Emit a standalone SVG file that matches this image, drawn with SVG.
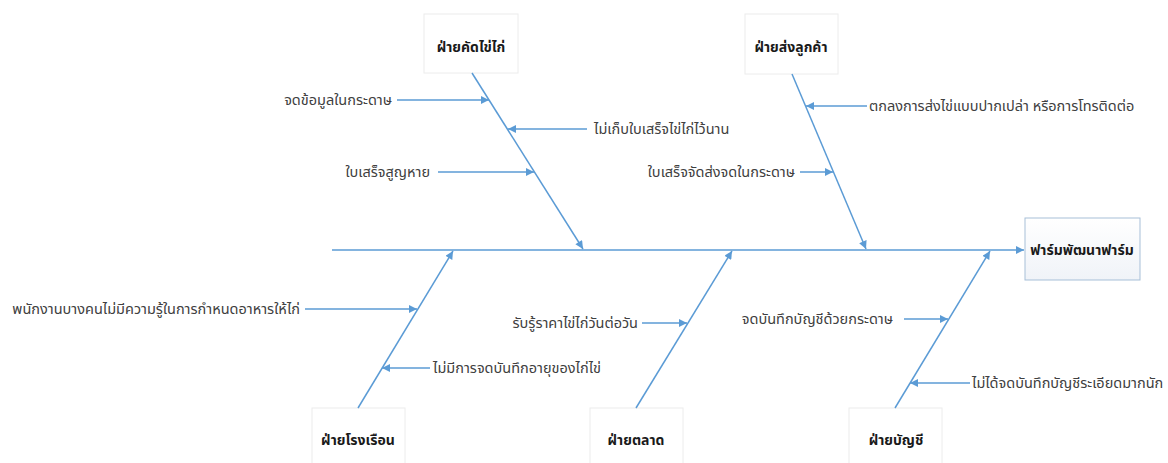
<svg xmlns="http://www.w3.org/2000/svg" width="1168" height="463" viewBox="0 0 1168 463">
<style>
.ln{stroke:#5b9bd5;stroke-width:1.5;fill:none}
.lbl{font-family:"Noto Sans Thai","Noto Sans","DejaVu Sans",sans-serif;font-size:14.5px;fill:#404040}
.ttl{font-family:"Noto Sans Thai","Noto Sans","DejaVu Sans",sans-serif;font-size:14px;font-weight:bold;fill:#1a1a1a}
.cbox{fill:#ffffff;stroke:#ececec;stroke-width:1}
</style>
<defs>
<marker id="ah" viewBox="0 0 10 10" refX="10" refY="5" markerWidth="10" markerHeight="8" markerUnits="userSpaceOnUse" orient="auto">
<path d="M0,0 L10,5 L0,10 z" fill="#5b9bd5"/>
</marker>
<linearGradient id="eg" x1="0" y1="0" x2="0" y2="1">
<stop offset="0" stop-color="#ffffff"/>
<stop offset="1" stop-color="#f0f3f8"/>
</linearGradient>
</defs>
<rect width="1168" height="463" fill="#ffffff"/>

<g id="node-effect">
<rect x="1025" y="218" width="115" height="62" fill="url(#eg)" stroke="#a7bfd8" stroke-width="1"/>
<text class="ttl" x="1082" y="255" text-anchor="middle">ฟาร์มพัฒนาฟาร์ม</text>
</g>
<g id="node-sorting">
<rect class="cbox" x="424" y="14" width="94" height="59"/>
<text class="ttl" x="471" y="52" text-anchor="middle">ฝ่ายคัดไข่ไก่</text>
</g>
<g id="node-delivery">
<rect class="cbox" x="745" y="14" width="93" height="60"/>
<text class="ttl" x="791" y="52" text-anchor="middle">ฝ่ายส่งลูกค้า</text>
</g>
<g id="node-housing">
<rect class="cbox" x="312" y="408" width="93" height="56"/>
<text class="ttl" x="358" y="445" text-anchor="middle">ฝ่ายโรงเรือน</text>
</g>
<g id="node-marketing">
<rect class="cbox" x="590" y="408" width="93" height="56"/>
<text class="ttl" x="636" y="445" text-anchor="middle">ฝ่ายตลาด</text>
</g>
<g id="node-accounting">
<rect class="cbox" x="849" y="408" width="93" height="56"/>
<text class="ttl" x="896" y="445" text-anchor="middle">ฝ่ายบัญชี</text>
</g>

<g id="connectors">
<line class="ln" x1="332" y1="250" x2="1024" y2="250" marker-end="url(#ah)"/>
<line class="ln" x1="472" y1="73" x2="583" y2="249" marker-end="url(#ah)"/>
<line class="ln" x1="792" y1="74" x2="866" y2="249" marker-end="url(#ah)"/>
<line class="ln" x1="358" y1="408" x2="453" y2="251" marker-end="url(#ah)"/>
<line class="ln" x1="636" y1="408" x2="732" y2="251" marker-end="url(#ah)"/>
<line class="ln" x1="895" y1="408" x2="990" y2="251" marker-end="url(#ah)"/>

<line class="ln" x1="397" y1="100" x2="489" y2="100" marker-end="url(#ah)"/>
<line class="ln" x1="587" y1="129" x2="508" y2="129" marker-end="url(#ah)"/>
<line class="ln" x1="438" y1="172" x2="534" y2="172" marker-end="url(#ah)"/>
<line class="ln" x1="867" y1="106" x2="806" y2="106" marker-end="url(#ah)"/>
<line class="ln" x1="800" y1="172" x2="833" y2="172" marker-end="url(#ah)"/>
<line class="ln" x1="305" y1="309" x2="417" y2="309" marker-end="url(#ah)"/>
<line class="ln" x1="430" y1="368" x2="382" y2="368" marker-end="url(#ah)"/>
<line class="ln" x1="642" y1="323" x2="687" y2="323" marker-end="url(#ah)"/>
<line class="ln" x1="904" y1="319" x2="948" y2="319" marker-end="url(#ah)"/>
<line class="ln" x1="970" y1="383" x2="910" y2="383" marker-end="url(#ah)"/>
</g>

<g id="labels">
<text class="lbl" x="392" y="105" text-anchor="end">จดข้อมูลในกระดาษ</text>
<text class="lbl" x="594" y="134">ไม่เก็บใบเสร็จไข่ไก่ไว้นาน</text>
<text class="lbl" x="430" y="177" text-anchor="end">ใบเสร็จสูญหาย</text>
<text class="lbl" x="869" y="111">ตกลงการส่งไข่แบบปากเปล่า หรือการโทรติดต่อ</text>
<text class="lbl" x="795" y="177" text-anchor="end">ใบเสร็จจัดส่งจดในกระดาษ</text>
<text class="lbl" x="300" y="314" text-anchor="end">พนักงานบางคนไม่มีความรู้ในการกำหนดอาหารให้ไก่</text>
<text class="lbl" x="433" y="373">ไม่มีการจดบันทึกอายุของไก่ไข่</text>
<text class="lbl" x="638" y="328" text-anchor="end">รับรู้ราคาไข่ไก่วันต่อวัน</text>
<text class="lbl" x="893" y="324" text-anchor="end">จดบันทึกบัญชีด้วยกระดาษ</text>
<text class="lbl" x="972" y="388">ไม่ได้จดบันทึกบัญชีระเอียดมากนัก</text>
</g>
</svg>
